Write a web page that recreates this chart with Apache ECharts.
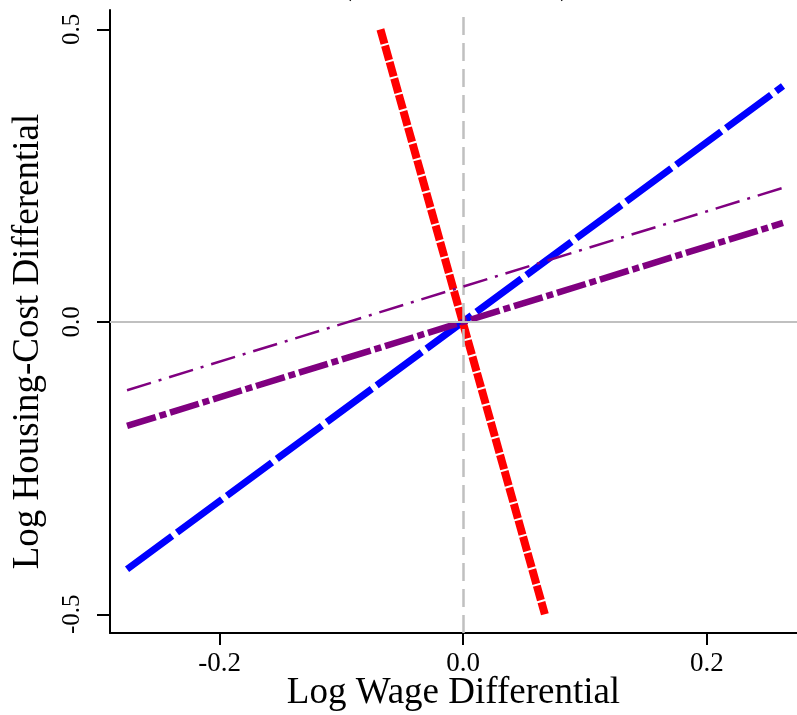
<!DOCTYPE html>
<html>
<head>
<meta charset="utf-8">
<script src="https://cdn.jsdelivr.net/npm/echarts@6/dist/echarts.min.js"></script>
<style>html,body{margin:0;padding:0;background:#fff}#c{width:797px;height:715px}</style>
</head>
<body>
<div id="c"></div>
<script>
// Data
const xTicks = [-0.2, 0.0, 0.2];
const yTicks = [-0.5, 0.0, 0.5];
const redLine = [[-0.068, 0.5], [0.067, -0.5]];
const blueLine = [[-0.276, -0.423], [0.2625, 0.403]];
const purpleThick = [[-0.276, -0.178], [0.2625, 0.169]];
const purpleThin = [[-0.276, -0.117], [0.2625, 0.229]];
const xName = 'Log Wage Differential';
const yName = 'Log Housing-Cost Differential';

const FONT = '"Liberation Serif", "DejaVu Serif", serif';
const chart = echarts.init(document.getElementById('c'), null, {renderer: 'canvas'});
const fmt = v => v.toFixed(1);
const lineSeries = (data, color, width, dash, z) => ({
  type: 'line', data, symbol: 'none', silent: true, z,
  lineStyle: {color, width, type: dash, cap: 'butt'}, animation: false
});
chart.setOption({
  animation: false,
  backgroundColor: '#ffffff',
  graphic: [
    {type: 'text', left: 342, top: -28, style: {text: '(', font: '30px ' + FONT, fill: '#000'}},
    {type: 'text', left: 560, top: -28, style: {text: ')', font: '30px ' + FONT, fill: '#000'}}
  ],
  grid: {left: 110, right: 0, top: 10, bottom: 82, containLabel: false, outerBoundsMode: 'none'},
  xAxis: {
    type: 'value', min: -0.290, max: 0.274,
    name: xName, nameLocation: 'middle', nameGap: 42, nameMoveOverlap: false,
    nameTextStyle: {fontFamily: FONT, fontSize: 37, color: '#000'},
    axisLine: {show: true, onZero: false, lineStyle: {color: '#000', width: 2}},
    axisTick: {show: true, inside: false, length: 12, lineStyle: {color: '#000', width: 2}, customValues: xTicks},
    axisLabel: {show: true, margin: 17, fontFamily: FONT, fontSize: 27, color: '#000', formatter: fmt, customValues: xTicks},
    splitLine: {show: false}
  },
  yAxis: {
    type: 'value', min: -0.532, max: 0.533,
    name: yName, nameLocation: 'middle', nameGap: 63, nameRotate: 90, nameMoveOverlap: false,
    nameTextStyle: {fontFamily: FONT, fontSize: 37, color: '#000', padding: [0, 40, 0, 0]},
    axisLine: {show: true, onZero: false, lineStyle: {color: '#000', width: 2}},
    axisTick: {show: true, inside: false, length: 13, lineStyle: {color: '#000', width: 2}, customValues: yTicks},
    axisLabel: {show: true, rotate: 90, margin: 25, fontFamily: FONT, fontSize: 25, color: '#000', formatter: fmt, customValues: yTicks},
    splitLine: {show: false}
  },
  series: [
    {
      type: 'line', data: [], symbol: 'none', silent: true, z: 1,
      markLine: {
        silent: true, symbol: 'none', label: {show: false}, animation: false,
        data: [
          {xAxis: 0, lineStyle: {color: '#c0c0c0', width: 2.5, type: [18, 8]}},
          {yAxis: 0, lineStyle: {color: '#c0c0c0', width: 2, type: 'solid'}}
        ]
      }
    },
    lineSeries(blueLine, '#0000ff', 7, [56, 6], 2),
    lineSeries(redLine, '#ff0000', 8, [15, 2], 3),
    lineSeries(purpleThick, '#800080', 6.5, [30, 4, 7, 4], 4),
    lineSeries(purpleThin, '#800080', 2.5, [25, 8, 3, 8], 5)
  ]
});
</script>
</body>
</html>
